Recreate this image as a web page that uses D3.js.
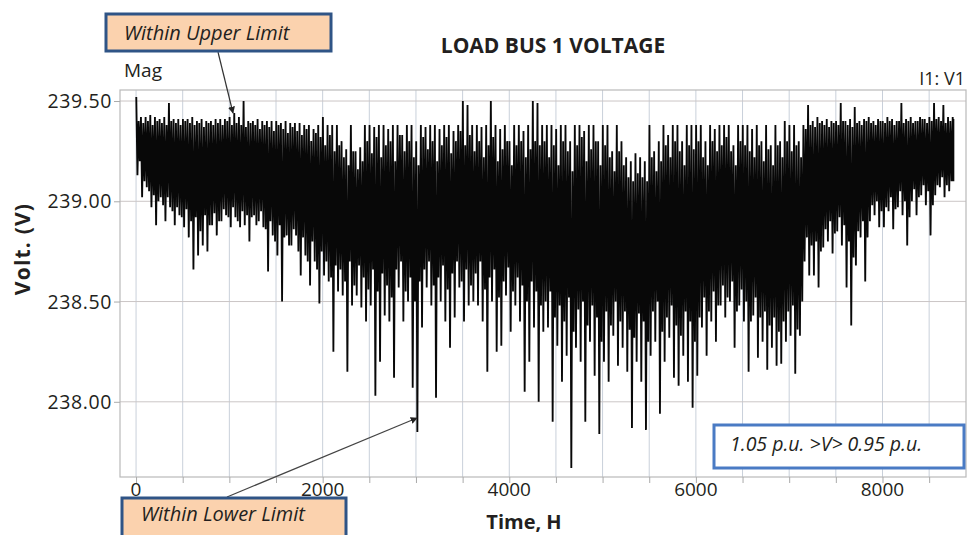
<!DOCTYPE html>
<html><head><meta charset="utf-8">
<script src="https://cdn.jsdelivr.net/npm/d3@7"></script>
<style>
body{margin:0;background:#fff}
svg{display:block}
text{font-family:"Open Sans","Noto Sans",sans-serif;fill:#231f20}
</style>
</head><body>
<svg id="chart" width="969" height="535"></svg>
<script>
// ---------------- DATA ----------------
const title = "LOAD BUS 1 VOLTAGE";
const yAxisTitle = "Volt. (V)";
const xAxisTitle = "Time, H";
const seriesName = "I1: V1";
const quantityName = "Mag";

const xTickValues = [0, 2000, 4000, 6000, 8000];
const xTickLabels = ["0", "2000", "4000", "6000", "8000"];
const xGridValues = [0,500,1000,1500,2000,2500,3000,3500,4000,4500,5000,5500,6000,6500,7000,7500,8000,8500];
const yTickValues = [238.0, 238.5, 239.0, 239.5];
const yTickLabels = ["238.00", "238.50", "239.00", "239.50"];

// hourly trace reduced to 50-hour bins:
// highest, lowest, second highest and second lowest value in each bin
const binWidth = 50;
const binMax = [
 239.52,239.42,239.42,239.43,239.42,239.41,239.42,239.49,239.41,239.41,239.41,239.41,239.42,239.40,239.41,239.40,239.40,239.41,239.41,239.41,
 239.42,239.44,239.42,239.50,239.40,239.40,239.41,239.40,239.40,239.40,239.40,239.39,239.40,239.39,239.39,239.39,239.38,239.38,239.36,239.38,
 239.42,239.38,239.38,
 239.38,239.30,239.26,239.38,239.25,239.27,239.38,239.38,239.37,239.38,239.38,239.36,239.38,239.38,239.33,239.38,239.38,239.30,239.38,239.37,
 239.38,239.38,239.36,239.38,239.38,239.35,239.38,239.50,239.48,239.38,239.38,239.37,239.38,239.50,239.38,239.36,239.38,239.30,239.38,239.38,
 239.35,239.38,239.50,239.49,
 239.38,239.38,239.38,239.36,239.38,239.38,239.30,239.38,239.38,239.35,239.38,239.38,239.30,239.38,239.38,239.25,239.38,239.30,239.22,239.20,
 239.24,239.22,239.20,239.38,239.25,239.30,239.38,239.33,239.38,239.38,239.30,239.38,239.38,239.38,239.38,239.30,239.38,239.36,239.38,239.38,
 239.38,239.28,239.38,239.38,239.38,239.36,239.38,
 239.30,239.38,239.28,239.38,239.30,239.40,239.38,239.38,239.30,239.38,239.48,239.40,239.42,239.40,239.41,239.40,239.40,239.49,239.40,239.41,
 239.47,239.40,239.41,239.42,239.40,239.41,239.40,239.42,239.41,239.40,239.49,239.41,239.42,239.40,239.42,239.41,239.42,239.49,239.42,239.48,
 239.42,239.42
];
const binMin = [
 239.13,239.02,239.07,238.97,238.88,239.02,238.90,238.97,238.88,238.93,238.87,238.82,238.66,238.73,238.78,238.75,238.88,238.83,238.90,238.93,
 238.87,238.92,238.87,238.88,238.80,238.93,238.90,238.87,238.65,238.83,238.73,238.50,238.83,238.78,238.83,238.63,238.73,238.58,238.70,238.49,
 238.63,238.60,238.25,
 238.55,238.53,238.15,238.48,238.53,238.47,238.40,238.48,238.03,238.20,238.43,238.40,238.12,238.57,238.40,238.50,238.07,237.85,238.37,238.57,
 238.48,238.02,238.50,238.40,238.27,238.42,238.57,238.40,238.48,238.50,238.48,238.40,238.15,238.50,238.25,238.28,238.53,238.35,238.48,238.40,
 238.05,238.20,238.37,238.00,
 238.35,238.37,237.90,238.28,238.10,238.23,237.67,238.27,238.20,237.90,238.30,238.13,237.84,238.20,238.10,238.33,238.18,238.27,238.15,237.87,
 238.20,238.10,237.86,238.23,238.30,237.94,238.20,238.32,238.12,238.08,238.23,238.10,237.97,238.13,238.37,238.23,238.40,238.30,238.48,238.42,
 238.50,238.27,238.48,238.40,238.15,238.43,238.22,
 238.30,238.16,238.27,238.18,238.19,238.30,238.33,238.14,238.33,238.70,238.63,238.63,238.57,238.77,238.80,238.74,238.85,238.78,238.57,238.38,
 238.68,238.82,238.60,238.90,238.93,238.87,238.87,238.95,238.86,238.97,238.93,238.78,239.00,238.93,239.03,238.98,238.83,239.03,239.07,239.02,
 239.05,239.10
];
const binHi2 = [
 239.40,239.39,239.40,239.38,239.40,239.39,239.38,239.40,239.39,239.38,239.40,239.39,239.38,239.39,239.37,239.39,239.38,239.39,239.38,239.40,
 239.38,239.39,239.38,239.37,239.39,239.38,239.36,239.38,239.37,239.35,239.38,239.36,239.34,239.37,239.35,239.33,239.36,239.30,239.34,239.32,
 239.28,239.33,239.25,
 239.28,239.22,239.18,239.25,239.16,239.20,239.30,239.24,239.32,239.22,239.28,239.30,239.20,239.33,239.25,239.30,239.22,239.18,239.32,239.26,
 239.30,239.20,239.28,239.32,239.24,239.30,239.35,239.28,239.33,239.25,239.30,239.22,239.28,239.32,239.20,239.26,239.30,239.18,239.28,239.30,
 239.22,239.26,239.30,239.28,
 239.30,239.22,239.28,239.18,239.30,239.25,239.15,239.28,239.32,239.20,239.26,239.30,239.18,239.28,239.22,239.15,239.25,239.18,239.12,239.10,
 239.14,239.12,239.10,239.22,239.15,239.20,239.28,239.22,239.30,239.25,239.18,239.28,239.26,239.30,239.22,239.18,239.30,239.25,239.28,239.32,
 239.25,239.18,239.30,239.28,239.25,239.22,239.28,
 239.20,239.26,239.18,239.28,239.22,239.30,239.25,239.28,239.22,239.36,239.38,239.37,239.39,239.38,239.37,239.39,239.38,239.40,239.38,239.37,
 239.39,239.38,239.40,239.39,239.38,239.40,239.39,239.40,239.38,239.40,239.39,239.40,239.39,239.40,239.41,239.39,239.40,239.41,239.40,239.39,
 239.40,239.41
];
const binLo2 = [
 239.20,239.10,239.05,239.03,239.00,238.98,239.02,238.95,238.97,238.92,238.96,238.90,238.92,238.85,238.93,238.88,238.94,238.90,238.96,238.92,
 238.97,238.90,238.95,238.93,238.92,238.88,238.95,238.86,238.90,238.80,238.88,238.82,238.78,238.86,238.75,238.82,238.70,238.80,238.66,238.75,
 238.70,238.62,238.68,
 238.66,238.60,238.70,238.58,238.68,238.62,238.56,238.66,238.55,238.64,238.58,238.52,238.66,238.70,238.55,238.62,238.50,238.60,238.66,238.70,
 238.58,238.62,238.68,238.56,238.64,238.70,238.60,238.66,238.58,238.64,238.70,238.56,238.62,238.66,238.52,238.60,238.67,238.55,238.62,238.58,
 238.50,238.60,238.55,238.48,
 238.50,238.55,238.42,238.48,238.40,238.52,238.35,238.46,238.50,238.38,238.48,238.42,238.30,238.45,238.38,238.50,238.40,238.45,238.36,238.32,
 238.44,238.40,238.30,238.45,238.50,238.35,238.42,238.48,238.38,238.33,238.45,238.40,238.30,238.42,238.52,238.45,238.55,238.48,238.58,238.52,
 238.60,238.45,238.56,238.50,238.40,238.52,238.42,
 238.45,238.38,238.42,238.35,238.40,238.45,238.48,238.36,238.50,238.82,238.78,238.80,238.75,238.86,238.90,238.84,238.92,238.88,238.80,238.72,
 238.85,238.90,238.82,238.98,239.00,238.95,238.97,239.02,238.96,239.05,239.00,238.92,239.06,239.02,239.08,239.05,238.98,239.08,239.12,239.08,
 239.10,239.15
];
const lastHour = 8760;

// annotations
const noteUpper = "Within Upper Limit";
const noteLower = "Within Lower Limit";
const noteRange = "1.05 p.u. >V> 0.95 p.u.";

// ---------------- CHART ----------------
const svg = d3.select("#chart");
const L = 120, R = 966, T = 90, B = 477;

const x = d3.scaleLinear().domain([-172, 8895]).range([L, R]);
const y = d3.scaleLinear().domain([237.625, 239.555]).range([B, T]);

const defs = svg.append("defs");
defs.append("clipPath").attr("id","plotclip").append("rect")
  .attr("x", L).attr("y", T).attr("width", R - L).attr("height", B - T);
defs.append("marker").attr("id","arrow").attr("viewBox","0 0 10 10")
  .attr("refX", 9).attr("refY", 5).attr("markerWidth", 7).attr("markerHeight", 7)
  .attr("orient","auto-start-reverse").attr("markerUnits","userSpaceOnUse")
  .append("path").attr("d","M0,0 L10,5 L0,10 z").attr("fill","#222");

// grid
const grid = svg.append("g");
grid.selectAll("line.v").data(xGridValues).join("line")
  .attr("x1", d => x(d)).attr("x2", d => x(d)).attr("y1", T).attr("y2", B)
  .attr("stroke", "#c9d0da").attr("stroke-width", 1);
grid.selectAll("line.h").data(yTickValues).join("line")
  .attr("x1", L).attr("x2", R).attr("y1", d => y(d)).attr("y2", d => y(d))
  .attr("stroke", "#cbc6c6").attr("stroke-width", 1);
svg.append("rect").attr("x", L).attr("y", T).attr("width", R - L).attr("height", B - T)
  .attr("fill","none").attr("stroke","#b9b9b9").attr("stroke-width",1.2);

// axes ticks
const xAxis = d3.axisBottom(x).tickValues(xGridValues).tickSize(6).tickFormat("");
svg.append("g").attr("transform",`translate(0,${B})`).call(xAxis)
  .call(g => g.select(".domain").remove())
  .call(g => g.selectAll(".tick line").attr("stroke","#aaa"));
const yAxis = d3.axisLeft(y).tickValues(yTickValues).tickSize(6).tickFormat("");
svg.append("g").attr("transform",`translate(${L},0)`).call(yAxis)
  .call(g => g.select(".domain").remove())
  .call(g => g.selectAll(".tick line").attr("stroke","#aaa"));

svg.append("g").selectAll("text").data(xTickValues).join("text")
  .attr("x", d => x(d)).attr("y", 496).attr("text-anchor","middle")
  .attr("font-size", 19).text((d,i) => xTickLabels[i]);
svg.append("g").selectAll("text").data(yTickValues).join("text")
  .attr("x", 112).attr("y", d => y(d) + 7).attr("text-anchor","end")
  .attr("font-size", 19.5).attr("letter-spacing", 0.6).text((d,i) => yTickLabels[i]);

// data
const plot = svg.append("g").attr("clip-path","url(#plotclip)");
const trace = [];
binMax.forEach((v, i) => {
  const h0 = i * binWidth;
  const pts = [[0.05, v], [0.3, binMin[i]], [0.55, binHi2[i]], [0.8, binLo2[i]]];
  pts.forEach(([f, val]) => trace.push([Math.min(h0 + binWidth * f, lastHour), val]));
});
const line = d3.line().x(d => x(d[0])).y(d => y(d[1]));
plot.append("path").attr("d", line(trace)).attr("fill","none")
  .attr("stroke","#080808").attr("stroke-width",1.85).attr("stroke-linejoin","bevel");

// titles
svg.append("text").attr("x", 553).attr("y", 53).attr("text-anchor","middle")
  .attr("font-size", 21).attr("font-weight", 700).text(title);
svg.append("text").attr("x", 124).attr("y", 77).attr("font-size", 19).text(quantityName);
svg.append("text").attr("x", 965).attr("y", 85).attr("text-anchor","end").attr("font-size", 18).text(seriesName);
svg.append("text").attr("transform","translate(30,249) rotate(-90)").attr("text-anchor","middle")
  .attr("font-size", 21).attr("font-weight", 700).attr("letter-spacing", 1.2).text(yAxisTitle);
svg.append("text").attr("x", 524).attr("y", 529).attr("text-anchor","middle")
  .attr("font-size", 20).attr("font-weight", 700).text(xAxisTitle);

// annotations
const ann = svg.append("g");
ann.append("line").attr("x1", 218).attr("y1", 52).attr("x2", 233).attr("y2", 113)
  .attr("stroke","#333").attr("stroke-width",1.2).attr("marker-end","url(#arrow)");
ann.append("line").attr("x1", 227).attr("y1", 497).attr("x2", 417).attr("y2", 418)
  .attr("stroke","#444").attr("stroke-width",1.2).attr("marker-end","url(#arrow)");

ann.append("rect").attr("x", 106).attr("y", 14).attr("width", 225).attr("height", 37)
  .attr("fill","#fbd2ae").attr("stroke","#2f5486").attr("stroke-width",3);
ann.append("text").attr("x", 124).attr("y", 40).attr("font-size", 20).attr("font-style","italic")
  .attr("fill","#333").text(noteUpper);

ann.append("rect").attr("x", 122).attr("y", 498).attr("width", 224).attr("height", 45)
  .attr("fill","#fbd2ae").attr("stroke","#2f5486").attr("stroke-width",3);
ann.append("text").attr("x", 141).attr("y", 521).attr("font-size", 20).attr("font-style","italic")
  .attr("fill","#333").text(noteLower);

ann.append("rect").attr("x", 714).attr("y", 425).attr("width", 250).attr("height", 43)
  .attr("fill","#fff").attr("stroke","#4a7bc4").attr("stroke-width",3);
ann.append("text").attr("x", 730).attr("y", 451).attr("font-size", 19.5).attr("font-style","italic")
  .attr("fill","#222").text(noteRange);
</script>
</body></html>
